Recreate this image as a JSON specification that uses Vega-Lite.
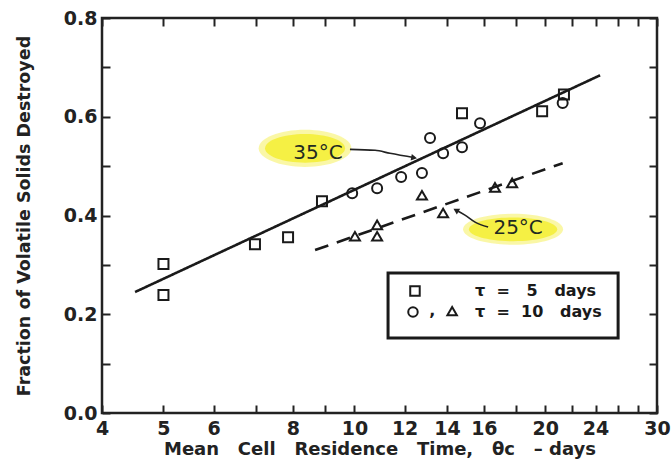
{
  "$schema": "https://vega.github.io/schema/vega-lite/v6.json",
  "width": 555,
  "height": 395,
  "autosize": {"type": "none"},
  "padding": {"left": 102, "top": 18, "right": 14, "bottom": 49},
  "background": "white",
  "config": {
    "view": {"stroke": "#222", "strokeWidth": 2.5},
    "axis": {"labelFont": "DejaVu Sans", "labelFontSize": 19, "labelFontWeight": "bold", "labelColor": "#222",
      "titleFont": "DejaVu Sans", "titleColor": "#222", "titleFontWeight": "bold"}
  },
  "datasets": {
    "pts": [
      {"x": 5, "y": 0.302, "s": "sq"}, {"x": 5, "y": 0.239, "s": "sq"}, {"x": 6.97, "y": 0.342, "s": "sq"},
      {"x": 7.86, "y": 0.356, "s": "sq"}, {"x": 8.89, "y": 0.429, "s": "sq"}, {"x": 14.78, "y": 0.607, "s": "sq"},
      {"x": 19.77, "y": 0.611, "s": "sq"}, {"x": 21.4, "y": 0.645, "s": "sq"},
      {"x": 9.92, "y": 0.445, "s": "ci"}, {"x": 10.86, "y": 0.455, "s": "ci"}, {"x": 11.85, "y": 0.478, "s": "ci"},
      {"x": 12.78, "y": 0.486, "s": "ci"}, {"x": 13.16, "y": 0.557, "s": "ci"}, {"x": 13.8, "y": 0.526, "s": "ci"},
      {"x": 14.78, "y": 0.538, "s": "ci"}, {"x": 15.78, "y": 0.587, "s": "ci"}, {"x": 21.3, "y": 0.628, "s": "ci"},
      {"x": 10.02, "y": 0.358, "s": "tr"}, {"x": 10.86, "y": 0.381, "s": "tr"}, {"x": 10.86, "y": 0.358, "s": "tr"},
      {"x": 12.78, "y": 0.441, "s": "tr"}, {"x": 13.8, "y": 0.405, "s": "tr"}, {"x": 16.66, "y": 0.457, "s": "tr"},
      {"x": 17.73, "y": 0.466, "s": "tr"}
    ],
    "fits": [
      {"x": 4.51, "y": 0.245, "line": "35"}, {"x": 24.4, "y": 0.684, "line": "35"},
      {"x": 8.67, "y": 0.330, "line": "25"}, {"x": 21.3, "y": 0.506, "line": "25"}
    ],
    "hl": [
      {"x": 8.36, "y": 0.536, "size": 8600, "shape": "M -1 0 A 1 0.40 0 1 0 1 0 A 1 0.40 0 1 0 -1 0 Z", "op": 0.45},
      {"x": 8.36, "y": 0.536, "size": 6400, "shape": "M -1 0 A 1 0.36 0 1 0 1 0 A 1 0.36 0 1 0 -1 0 Z", "op": 0.9},
      {"x": 17.79, "y": 0.372, "size": 10000, "shape": "M -1 0 A 1 0.31 0 1 0 1 0 A 1 0.31 0 1 0 -1 0 Z", "op": 0.45},
      {"x": 17.79, "y": 0.372, "size": 7800, "shape": "M -1 0 A 1 0.27 0 1 0 1 0 A 1 0.27 0 1 0 -1 0 Z", "op": 0.9}
    ],
    "labels": [
      {"x": 8.76, "y": 0.526, "text": "35°C"},
      {"x": 18.12, "y": 0.3745, "text": "25°C"}
    ],
    "arrows": [
      {"x": 9.84, "y": 0.534, "a": "a35", "o": 1}, {"x": 10.78, "y": 0.532, "a": "a35", "o": 2},
      {"x": 11.38, "y": 0.526, "a": "a35", "o": 3}, {"x": 12.45, "y": 0.517, "a": "a35", "o": 4},
      {"x": 16.25, "y": 0.3765, "a": "a25", "o": 1}, {"x": 15.5, "y": 0.3866, "a": "a25", "o": 2},
      {"x": 14.94, "y": 0.4008, "a": "a25", "o": 3}, {"x": 14.5, "y": 0.410, "a": "a25", "o": 4}
    ],
    "heads": [
      {"x": 12.42, "y": 0.517, "shape": "triangle-right", "angle": 10},
      {"x": 14.46, "y": 0.4109, "shape": "triangle-left", "angle": 30}
    ],
    "box": [{"x1": 11.3, "x2": 26.05, "y1": 0.2834, "y2": 0.1518}],
    "legsym": [
      {"x": 12.46, "y": 0.247, "s": "sq"}, {"x": 12.37, "y": 0.2045, "s": "ci"}, {"x": 14.26, "y": 0.2065, "s": "tr"}
    ],
    "legtext": [
      {"x": 15.5, "y": 0.247, "text": "τ\u00a0\u00a0=\u00a0\u00a0\u00a05\u00a0\u00a0\u00a0days"},
      {"x": 15.5, "y": 0.2045, "text": "τ\u00a0\u00a0=\u00a0\u00a010\u00a0\u00a0\u00a0days"},
      {"x": 13.12, "y": 0.2065, "text": ","}
    ]
  },
  "resolve": {"axis": {"x": "independent", "y": "independent"}},
  "layer": [
    {
      "data": {"name": "hl"},
      "mark": {"type": "point", "filled": true, "color": "#f4ee3a", "strokeWidth": 0},
      "encoding": {
        "x": {"field": "x", "type": "quantitative", "scale": {"type": "log", "domain": [4, 30], "nice": false},
          "axis": {"orient": "bottom", "values": [4, 5, 6, 7, 8, 9, 10, 12, 14, 16, 18, 20, 22, 24, 26, 28, 30],
            "labelExpr": "indexof([4,5,6,8,10,12,14,16,20,24,30], datum.value) >= 0 ? datum.label : ''",
            "format": "d", "labelFlush": false, "labelOverlap": false, "labelPadding": 6,
            "domain": false, "grid": false, "ticks": true, "tickColor": "#222", "tickWidth": 2, "tickSize": 8, "offset": -8,
            "title": "Mean\u00a0\u00a0\u00a0Cell\u00a0\u00a0\u00a0Residence\u00a0\u00a0\u00a0Time,\u00a0\u00a0\u00a0θc\u00a0\u00a0\u00a0–\u00a0days", "titleFontSize": 18, "titlePadding": 2}},
        "y": {"field": "y", "type": "quantitative", "scale": {"domain": [0, 0.8], "nice": false},
          "axis": {"orient": "left", "values": [0, 0.1, 0.2, 0.3, 0.4, 0.5, 0.6, 0.7, 0.8],
            "labelExpr": "round(datum.value*10) % 2 == 0 ? format(datum.value, '.1f') : ''",
            "labelFlush": false, "labelOverlap": false, "labelPadding": 5,
            "domain": false, "grid": false, "ticks": true, "tickColor": "#222", "tickWidth": 2, "tickSize": 8, "offset": -8,
            "title": "Fraction of Volatile Solids Destroyed", "titleFontSize": 17.5, "titlePadding": 30}},
        "shape": {"field": "shape", "type": "nominal", "scale": null},
        "size": {"field": "size", "type": "quantitative", "scale": null},
        "opacity": {"field": "op", "type": "quantitative", "scale": null}
      }
    },
    {
      "data": {"name": "fits"},
      "mark": {"type": "line", "color": "#1a1a1a", "strokeWidth": 2.6},
      "encoding": {
        "x": {"field": "x", "type": "quantitative", "axis": {"orient": "top", "values": [4, 5, 6, 7, 8, 9, 10, 12, 14, 16, 18, 20, 22, 24, 26, 28, 30], "labels": false, "title": null, "domain": false, "grid": false, "ticks": true, "tickColor": "#222", "tickWidth": 2, "tickSize": 8, "offset": -8}},
        "y": {"field": "y", "type": "quantitative", "axis": {"orient": "right", "values": [0, 0.1, 0.2, 0.3, 0.4, 0.5, 0.6, 0.7, 0.8], "labels": false, "title": null, "domain": false, "grid": false, "ticks": true, "tickColor": "#222", "tickWidth": 2, "tickSize": 8, "offset": -8}},
        "detail": {"field": "line", "type": "nominal"},
        "strokeDash": {"field": "line", "type": "nominal", "scale": {"domain": ["35", "25"], "range": [[1, 0], [14, 9]]}, "legend": null}
      }
    },
    {
      "data": {"name": "pts"},
      "mark": {"type": "point", "filled": false, "color": "#1a1a1a", "strokeWidth": 2, "opacity": 1},
      "encoding": {
        "x": {"field": "x", "type": "quantitative", "axis": null},
        "y": {"field": "y", "type": "quantitative", "axis": null},
        "shape": {"field": "s", "type": "nominal", "scale": {"domain": ["sq", "ci", "tr"], "range": ["square", "circle", "triangle-up"]}, "legend": null},
        "size": {"value": 100}
      }
    },
    {
      "data": {"name": "labels"},
      "mark": {"type": "text", "font": "DejaVu Sans", "fontSize": 20, "color": "#1f2a22", "align": "center", "baseline": "middle"},
      "encoding": {
        "x": {"field": "x", "type": "quantitative", "axis": null},
        "y": {"field": "y", "type": "quantitative", "axis": null},
        "text": {"field": "text", "type": "nominal"}
      }
    },
    {
      "data": {"name": "arrows"},
      "mark": {"type": "line", "color": "#222", "strokeWidth": 1.6, "interpolate": "monotone"},
      "encoding": {
        "x": {"field": "x", "type": "quantitative", "axis": null},
        "y": {"field": "y", "type": "quantitative", "axis": null},
        "detail": {"field": "a", "type": "nominal"},
        "order": {"field": "o", "type": "quantitative"}
      }
    },
    {
      "data": {"name": "heads"},
      "mark": {"type": "point", "filled": true, "color": "#222", "opacity": 1, "size": 45},
      "encoding": {
        "x": {"field": "x", "type": "quantitative", "axis": null},
        "y": {"field": "y", "type": "quantitative", "axis": null},
        "shape": {"field": "shape", "type": "nominal", "scale": null},
        "angle": {"field": "angle", "type": "quantitative", "scale": null}
      }
    },
    {
      "data": {"name": "box"},
      "mark": {"type": "rect", "fill": "white", "stroke": "#1a1a1a", "strokeWidth": 3},
      "encoding": {
        "x": {"field": "x1", "type": "quantitative", "axis": null},
        "x2": {"field": "x2"},
        "y": {"field": "y1", "type": "quantitative", "axis": null},
        "y2": {"field": "y2"}
      }
    },
    {
      "data": {"name": "legsym"},
      "mark": {"type": "point", "filled": false, "color": "#1a1a1a", "strokeWidth": 2, "opacity": 1},
      "encoding": {
        "x": {"field": "x", "type": "quantitative", "axis": null},
        "y": {"field": "y", "type": "quantitative", "axis": null},
        "shape": {"field": "s", "type": "nominal", "scale": {"domain": ["sq", "ci", "tr"], "range": ["square", "circle", "triangle-up"]}, "legend": null},
        "size": {"value": 90}
      }
    },
    {
      "data": {"name": "legtext"},
      "mark": {"type": "text", "font": "DejaVu Sans", "fontSize": 16, "fontWeight": "bold", "color": "#1a1a1a", "align": "left", "baseline": "middle"},
      "encoding": {
        "x": {"field": "x", "type": "quantitative", "axis": null},
        "y": {"field": "y", "type": "quantitative", "axis": null},
        "text": {"field": "text", "type": "nominal"}
      }
    }
  ]
}
